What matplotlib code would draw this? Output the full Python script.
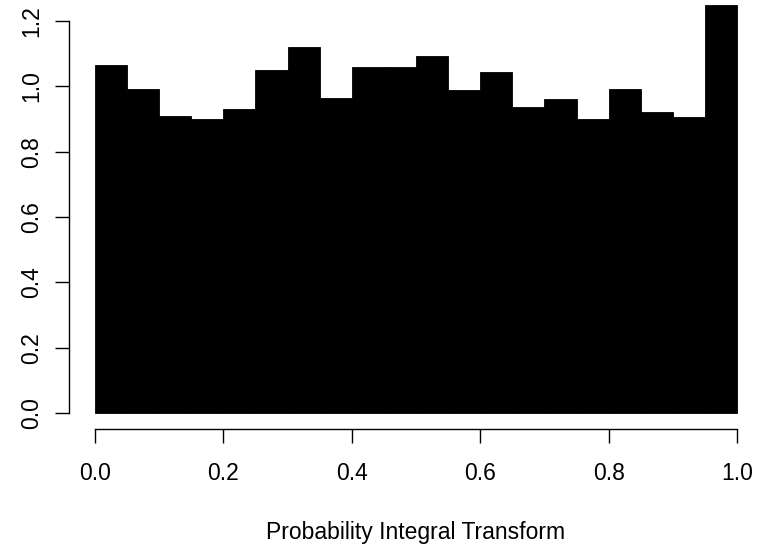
import numpy as np
import matplotlib.pyplot as plt

plt.rcParams['font.family'] = ['Liberation Sans', 'DejaVu Sans']

# histogram of PIT values, 20 bins, density scale
bin_edges = np.linspace(0, 1, 21)
density = [1.065, 0.991, 0.910, 0.900, 0.930, 1.050, 1.120, 0.964, 1.059, 1.061,
           1.092, 0.989, 1.043, 0.937, 0.961, 0.900, 0.991, 0.921, 0.906, 1.250]
xticks = [0.0, 0.2, 0.4, 0.6, 0.8, 1.0]
yticks = [0.0, 0.2, 0.4, 0.6, 0.8, 1.0, 1.2]

W, H = 762, 548
fig = plt.figure(figsize=(W / 100, H / 100), dpi=100)
left, right, top, bottom = 69.3, 762.7, -11.5, 429.3
ax = fig.add_axes([left / W, (H - bottom) / H, (right - left) / W, (bottom - top) / H])

ax.bar(bin_edges[:-1], density, width=np.diff(bin_edges), align='edge',
       color='black', edgecolor='black', linewidth=0.6)

ax.set_xlim(-0.04, 1.04)
ax.set_ylim(-0.05, 1.30)

for s in ['top', 'right']:
    ax.spines[s].set_visible(False)
ax.spines['bottom'].set_bounds(0, 1)
ax.spines['left'].set_bounds(0, 1.2)
for s in ['bottom', 'left']:
    ax.spines[s].set_linewidth(1.0)

ax.set_xticks(xticks)
ax.set_xticklabels([f'{v:.1f}' for v in xticks])
ax.set_yticks(yticks)
ax.set_yticklabels([f'{v:.1f}' for v in yticks])
ax.tick_params(axis='both', direction='out', length=10, width=1.0, labelsize=16.5)
ax.tick_params(axis='x', pad=13.5)
ax.tick_params(axis='y', pad=9)
plt.setp(ax.get_yticklabels(), rotation=90, va='center')

ax.set_xlabel('Probability Integral Transform', fontsize=16.5, labelpad=26)

fig.savefig('out.png', dpi=100)
